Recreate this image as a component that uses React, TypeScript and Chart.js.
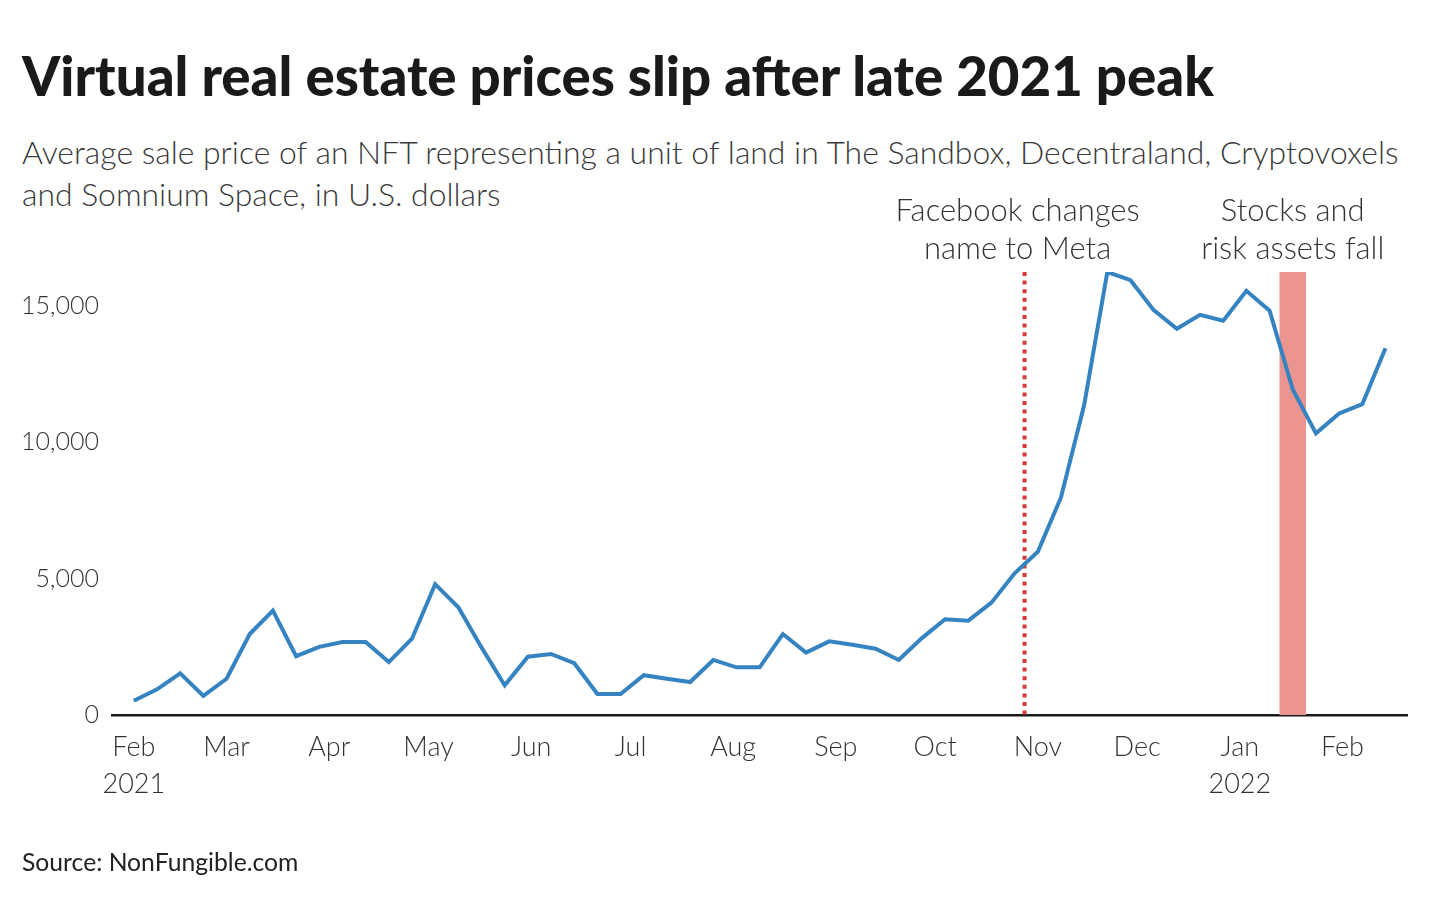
import React, { useEffect, useRef } from "react";
import { Chart, registerables } from "chart.js";

Chart.register(...registerables);

// ---------- DATA ----------
const weekDates: string[] = [
  "2021-02-01", "2021-02-08", "2021-02-15", "2021-02-22", "2021-03-01", "2021-03-08", "2021-03-15",
  "2021-03-22", "2021-03-29", "2021-04-05", "2021-04-12", "2021-04-19", "2021-04-26", "2021-05-03",
  "2021-05-10", "2021-05-17", "2021-05-24", "2021-05-31", "2021-06-07", "2021-06-14", "2021-06-21",
  "2021-06-28", "2021-07-05", "2021-07-12", "2021-07-19", "2021-07-26", "2021-08-02", "2021-08-09",
  "2021-08-16", "2021-08-23", "2021-08-30", "2021-09-06", "2021-09-13", "2021-09-20", "2021-09-27",
  "2021-10-04", "2021-10-11", "2021-10-18", "2021-10-25", "2021-11-01", "2021-11-08", "2021-11-15",
  "2021-11-22", "2021-11-29", "2021-12-06", "2021-12-13", "2021-12-20", "2021-12-27", "2022-01-03",
  "2022-01-10", "2022-01-17", "2022-01-24", "2022-01-31", "2022-02-07", "2022-02-14",
];

const avgPriceUSD: number[] = [
  520, 940, 1530, 700, 1330, 2970, 3830,
  2160, 2500, 2680, 2680, 1940, 2800, 4800,
  3950, 2480, 1090, 2140, 2240, 1900, 770,
  770, 1460, 1330, 1210, 2020, 1750, 1750,
  2970, 2290, 2700, 2580, 2430, 2020, 2820,
  3510, 3460, 4120, 5200, 5990, 7980, 11370,
  16250, 15950, 14850, 14170, 14680, 14460, 15560,
  14830, 11940, 10330, 11060, 11400, 13450,
];

const monthTickDates: string[] = [
  "2021-02-01", "2021-03-01", "2021-04-01", "2021-05-01", "2021-06-01", "2021-07-01", "2021-08-01",
  "2021-09-01", "2021-10-01", "2021-11-01", "2021-12-01", "2022-01-01", "2022-02-01",
];
const monthTickLabels: (string | string[])[] = [
  ["Feb", "2021"], "Mar", "Apr", "May", "Jun", "Jul", "Aug", "Sep", "Oct", "Nov", "Dec", ["Jan", "2022"], "Feb",
];

const yTickValues: number[] = [0, 5000, 10000, 15000];

const metaEventDate = "2021-10-28";
const metaEventLabel: string[] = ["Facebook changes", "name to Meta"];
const riskOffStart = "2022-01-13";
const riskOffEnd = "2022-01-21";
const riskOffLabel: string[] = ["Stocks and", "risk assets fall"];

const titleText = "Virtual real estate prices slip after late 2021 peak";
const subtitleLines: string[] = [
  "Average sale price of an NFT representing a unit of land in The Sandbox, Decentraland, Cryptovoxels",
  "and Somnium Space, in U.S. dollars",
];
const sourceText = "Source: NonFungible.com";

// ---------- HELPERS ----------
const ORIGIN = Date.UTC(2021, 1, 1);
const dayOf = (iso: string): number => {
  const [y, m, d] = iso.split("-").map(Number);
  return (Date.UTC(y, m - 1, d) - ORIGIN) / 86400000;
};

const FONT = "Lato, 'Source Sans Pro', sans-serif";

const annotationPlugin = {
  id: "annotations",
  beforeDatasetsDraw(chart: any) {
    const { ctx, chartArea, scales } = chart;
    const x = scales.x;
    ctx.save();
    // risk-off band
    const bx1 = x.getPixelForValue(dayOf(riskOffStart));
    const bx2 = x.getPixelForValue(dayOf(riskOffEnd));
    ctx.fillStyle = "#ec9590";
    ctx.fillRect(bx1, chartArea.top, bx2 - bx1, chartArea.bottom - chartArea.top);
    // Meta dotted line
    const mx = x.getPixelForValue(dayOf(metaEventDate));
    ctx.strokeStyle = "#d4383a";
    ctx.lineWidth = 4;
    ctx.setLineDash([4, 4.6]);
    ctx.beginPath();
    ctx.moveTo(mx, chartArea.top);
    ctx.lineTo(mx, chartArea.bottom);
    ctx.stroke();
    ctx.restore();
  },
  afterDatasetsDraw(chart: any) {
    const { ctx, chartArea, scales } = chart;
    const x = scales.x;
    ctx.save();
    ctx.fillStyle = "#333333";
    ctx.font = `300 31px ${FONT}`;
    ctx.textAlign = "center";
    ctx.textBaseline = "alphabetic";
    const mx = x.getPixelForValue(dayOf(metaEventDate)) - 7;
    const bx = (x.getPixelForValue(dayOf(riskOffStart)) + x.getPixelForValue(dayOf(riskOffEnd))) / 2;
    const base1 = chartArea.top - 51;
    const lh = 38;
    metaEventLabel.forEach((t, i) => ctx.fillText(t, mx, base1 + i * lh));
    riskOffLabel.forEach((t, i) => ctx.fillText(t, bx, base1 + i * lh));
    ctx.restore();
  },
};

export default function App() {
  const canvasRef = useRef<HTMLCanvasElement | null>(null);

  useEffect(() => {
    if (!canvasRef.current) return;
    const points = weekDates.map((d, i) => ({ x: dayOf(d), y: avgPriceUSD[i] }));
    const tickDays = monthTickDates.map(dayOf);
    const chart = new Chart(canvasRef.current, {
      type: "line",
      data: {
        datasets: [
          {
            data: points,
            borderColor: "#3583c0",
            borderWidth: 4,
            pointRadius: 0,
            tension: 0,
            fill: false,
          },
        ],
      },
      options: {
        animation: false,
        responsive: false,
        devicePixelRatio: 1,
        layout: { padding: { left: 0, right: 25, top: 272, bottom: 91 } },
        plugins: { legend: { display: false }, tooltip: { enabled: false }, title: { display: false } },
        scales: {
          x: {
            type: "linear",
            min: -6.6,
            max: 384.5,
            afterBuildTicks: (axis: any) => {
              axis.ticks = tickDays.map((v) => ({ value: v }));
            },
            afterFit: (axis: any) => {
              axis.height = 100;
            },
            ticks: {
              autoSkip: false,
              maxRotation: 0,
              minRotation: 0,
              padding: 14,
              color: "#333333",
              font: { family: FONT, size: 27, weight: "300", lineHeight: 1.36 },
              callback: (_v: any, i: number) => monthTickLabels[i],
            },
            grid: { display: false, drawTicks: false },
            border: { display: true, color: "#1a1a1a", width: 2.5 },
          },
          y: {
            min: 0,
            max: 16250,
            afterBuildTicks: (axis: any) => {
              axis.ticks = yTickValues.map((v) => ({ value: v }));
            },
            afterFit: (axis: any) => {
              axis.width = 112;
            },
            ticks: {
              padding: 13,
              color: "#333333",
              font: { family: FONT, size: 25, weight: "300" },
              callback: (v: any) => Number(v).toLocaleString("en-US"),
            },
            grid: { display: false, drawTicks: false },
            border: { display: false },
          },
        },
      },
      plugins: [annotationPlugin],
    });
    return () => chart.destroy();
  }, []);

  return (
    <div style={{ position: "absolute", left: 0, top: 0, width: 1432, height: 906, background: "#fff", overflow: "hidden" }}>
      <div
        style={{
          position: "absolute", left: 22, top: 44, fontFamily: FONT, fontWeight: 900, fontSize: 54.6,
          lineHeight: "62px", color: "#1a1a1a", whiteSpace: "nowrap",
        }}
      >
        {titleText}
      </div>
      <div
        style={{
          position: "absolute", left: 22, top: 131, fontFamily: FONT, fontWeight: 300, fontSize: 31.9,
          lineHeight: "42px", color: "#3a3a3a", whiteSpace: "nowrap",
        }}
      >
        {subtitleLines.map((l, i) => (
          <div key={i}>{l}</div>
        ))}
      </div>
      <canvas ref={canvasRef} width={1432} height={906} style={{ position: "absolute", left: 0, top: 0 }} />
      <div
        style={{
          position: "absolute", left: 22, top: 847, fontFamily: FONT, fontWeight: 400, fontSize: 24.7,
          lineHeight: "30px", color: "#222", whiteSpace: "nowrap",
        }}
      >
        {sourceText}
      </div>
    </div>
  );
}
